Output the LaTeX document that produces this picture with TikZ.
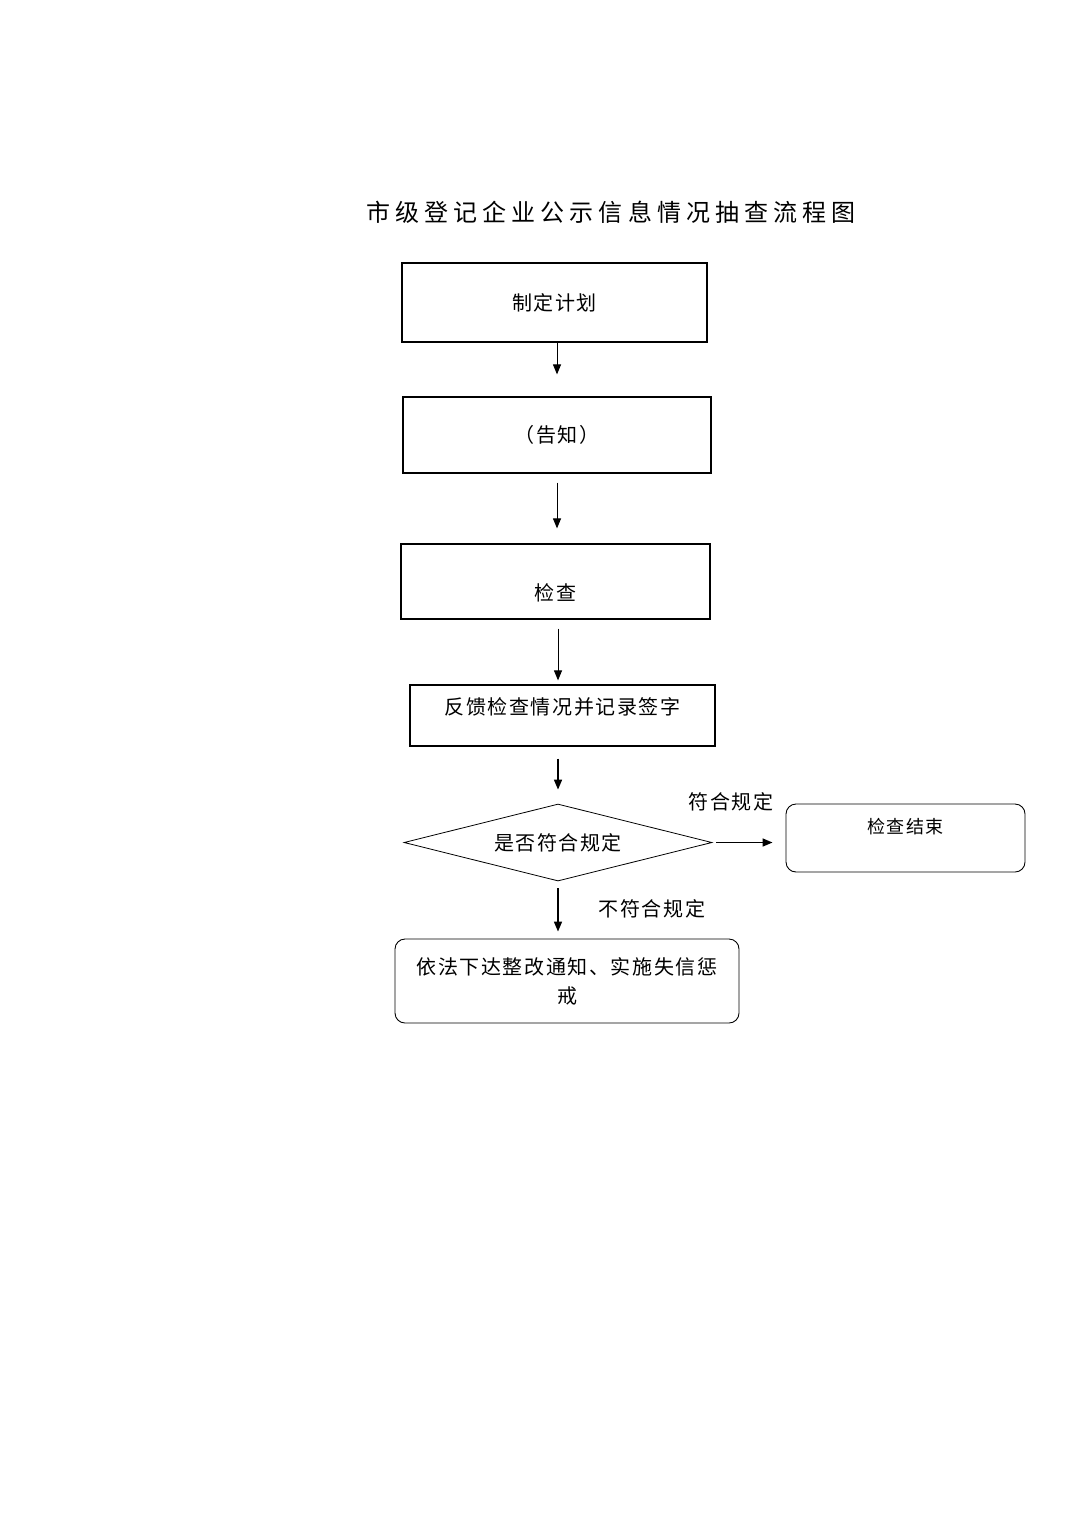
\documentclass[tikz,border=0pt]{standalone}
\usepackage{fontspec}
\newfontfamily\cjk[LetterSpace=8]{Noto Sans CJK SC}
\newfontfamily\cjktitle[LetterSpace=21]{Noto Sans CJK SC}
\usetikzlibrary{arrows.meta, positioning, shapes.geometric}
\tikzset{
  box/.style={draw, line width=1.2pt, inner sep=0pt, font=\cjk\fontsize{20}{24}\selectfont},
  rbox/.style={draw, line width=0.9pt, rounded corners=10pt, inner sep=0pt, align=center, font=\cjk\fontsize{20}{29}\selectfont},
  decide/.style={diamond, aspect=4, draw, line width=0.8pt, inner sep=0pt, font=\cjk\fontsize{20}{24}\selectfont},
  lbl/.style={font=\cjk\fontsize{20}{24}\selectfont},
  arr/.style={-{Triangle[length=10pt,width=8pt]}, line width=1pt}
}
\begin{document}
\begin{tikzpicture}[x=1pt, y=-1pt]
\useasboundingbox (0,0) rectangle (1075,1520);

\node[font=\cjktitle\fontsize{24}{28}\selectfont] (title) at (611,212) {市级登记企业公示信息情况抽查流程图};

\node[box, minimum width=305pt, minimum height=79pt] (plan) at (554.5,302.5) {制定计划};
\node[box, minimum width=308pt, minimum height=76pt] (notify) at (557,435) {（告知）};
\node[box, minimum width=309pt, minimum height=75pt, text height=40.4pt, text depth=3pt] (check) at (555.5,581.5) {检查};
\node[box, minimum width=305pt, minimum height=61pt, text height=16pt, text depth=18.6pt] (feedback) at (562.5,715.5) {反馈检查情况并记录签字};

\node[decide, minimum width=308pt, minimum height=77pt] (judge) at (558,842.5) {是否符合规定};
\node[rbox, minimum width=239pt, minimum height=68pt, font=\cjk\fontsize{18}{22}\selectfont, text height=16pt, text depth=24.4pt] (finish) at (905.5,838) {检查结束};
\node[rbox, minimum width=344pt, minimum height=84pt] (punish) at (567,981) {依法下达整改通知、实施失信惩\\戒};

\node[lbl] (yes) at (731,802) {符合规定};
\node[lbl] (no) at (652,909) {不符合规定};

% arrows
\draw[arr, shorten >=22pt] (notify.north |- plan.south) -- (notify.north);
\draw[arr, shorten <=9pt, shorten >=15pt] (notify.south) -- (notify.south |- check.north);
\draw[arr, shorten <=9pt, shorten >=4pt] (judge.north |- check.south) -- (judge.north |- feedback.north);
\draw[arr, line width=1.6pt, shorten <=12pt, shorten >=14pt] (judge.north |- feedback.south) -- (judge.north);
\draw[arr, line width=1.6pt, shorten <=4pt, shorten >=13pt] (judge.east) -- (finish.west |- judge.east);
\draw[arr, line width=1.6pt, shorten <=7pt, shorten >=7pt] (judge.south) -- (judge.south |- punish.north);
\end{tikzpicture}
\end{document}
